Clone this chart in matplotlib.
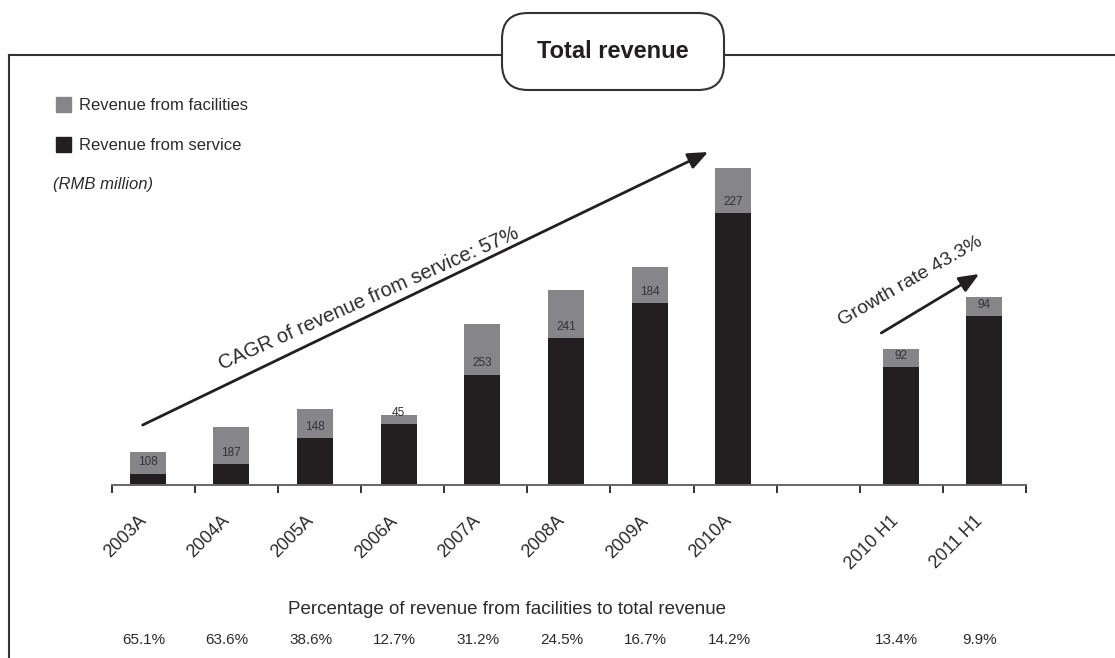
import numpy as np
import matplotlib
matplotlib.use('Agg')
import matplotlib.pyplot as plt
from matplotlib.patches import FancyBboxPatch, Rectangle
from matplotlib.lines import Line2D
from matplotlib.transforms import ScaledTranslation

plt.rcParams['font.family'] = ['Liberation Sans', 'DejaVu Sans']

# data (RMB million)
periods = ['2003A', '2004A', '2005A', '2006A', '2007A', '2008A', '2009A', '2010A', '2010 H1', '2011 H1']
service = [58, 107, 235, 309, 558, 743, 918, 1372, 595, 855]
facilities = [108, 187, 148, 45, 253, 241, 184, 227, 92, 94]
pct_facilities = ['65.1%', '63.6%', '38.6%', '12.7%', '31.2%', '24.5%', '16.7%', '14.2%', '13.4%', '9.9%']

c_dark = '#231f20'
c_gray = '#86868a'
c_text = '#2b2b2b'

W, H = 1115, 658
fig = plt.figure(figsize=(W / 100, H / 100), dpi=100)

# overlay in pixel coordinates for the frame / legend
ov = fig.add_axes([0, 0, 1, 1])
ov.set_xlim(0, W)
ov.set_ylim(H, 0)
ov.axis('off')

# main chart axes
ax = fig.add_axes([111.7 / W, (H - 485) / H, 914.3 / W, 386 / H])
ax.set_facecolor('none')
ax.set_xlim(-0.43, 10.5)
ax.set_ylim(0, 1950)

# slot 8 is left empty between full years and half years
x = np.r_[np.arange(8), 9, 10]
bw = 0.43
ax.bar(x, service, width=bw, color=c_dark, zorder=2)
ax.bar(x, facilities, width=bw, bottom=service, color=c_gray, zorder=2)

for xi, s, f in zip(x, service, facilities):
    ax.annotate(str(f), xy=(xi, s), xytext=(0, 8), textcoords='offset points',
                ha='center', va='center', fontsize=8.5, color='#333333', zorder=3)

# axis styling
for sp in ['top', 'right', 'left']:
    ax.spines[sp].set_visible(False)
ax.spines['bottom'].set_color('#666666')
ax.spines['bottom'].set_linewidth(1.4)
ax.set_yticks([])
ax.set_xticks(x)
ax.set_xticklabels(periods, rotation=45, ha='right', va='center',
                   rotation_mode='anchor', fontsize=13, color=c_text)
ax.tick_params(axis='x', which='major', length=0, pad=24)
shift = ScaledTranslation(-4 / 100, 0, fig.dpi_scale_trans)
for lbl in ax.get_xticklabels():
    lbl.set_transform(lbl.get_transform() + shift)
ax.set_xticks(np.linspace(-0.43, 10.5, 12), minor=True)
ax.tick_params(axis='x', which='minor', length=6, width=1.4, color='#333333', direction='out')

# percentage row
for xi, p in zip(x, pct_facilities):
    ax.annotate(p, xy=(xi, 0), xycoords=('data', 'axes fraction'), xytext=(-3, -111.5),
                textcoords='offset points', ha='center', va='center', fontsize=11, color=c_text)
ov.text(507, 610, 'Percentage of revenue from facilities to total revenue',
        ha='center', va='center', fontsize=13.5, color=c_text)

# growth arrows
ax.annotate('', xy=(6.70, 1682), xytext=(-0.06, 303),
            arrowprops=dict(arrowstyle='-|>,head_length=1.2,head_width=0.5', lw=2, color=c_dark,
                            shrinkA=0, shrinkB=0), zorder=4)
ax.text(2.64, 944, 'CAGR of revenue from service: 57%', rotation=24, ha='center', va='center',
        fontsize=14.5, color=c_text, rotation_mode='anchor')
ax.annotate('', xy=(9.94, 1066), xytext=(8.77, 768),
            arrowprops=dict(arrowstyle='-|>,head_length=1.2,head_width=0.5', lw=2, color=c_dark,
                            shrinkA=0, shrinkB=0), zorder=4)
ax.text(9.12, 1030, 'Growth rate 43.3%', rotation=30, ha='center', va='center',
        fontsize=14, color=c_text, rotation_mode='anchor')

# frame with title box
ov.add_line(Line2D([9, 9], [55, H], color='#333333', lw=1.5))
ov.add_line(Line2D([9, 502], [55, 55], color='#333333', lw=1.5))
ov.add_line(Line2D([724, W], [55, 55], color='#333333', lw=1.5))
ov.add_patch(FancyBboxPatch((502 + 26, 13 + 26), 222 - 52, 77 - 52,
                            boxstyle='round,pad=26', fc='white', ec='#333333', lw=1.5))
ov.text(613, 51, 'Total revenue', ha='center', va='center', fontsize=17,
        fontweight='bold', color=c_dark)

# legend
ov.add_patch(Rectangle((56, 97), 15, 15, color=c_gray))
ov.add_patch(Rectangle((56, 137), 15, 15, color=c_dark))
ov.text(79, 105, 'Revenue from facilities', ha='left', va='center', fontsize=12, color=c_text)
ov.text(79, 145, 'Revenue from service', ha='left', va='center', fontsize=12, color=c_text)
ov.text(53, 184, '(RMB million)', ha='left', va='center', fontsize=12, style='italic', color=c_text)

fig.savefig('out.png', dpi=100)
